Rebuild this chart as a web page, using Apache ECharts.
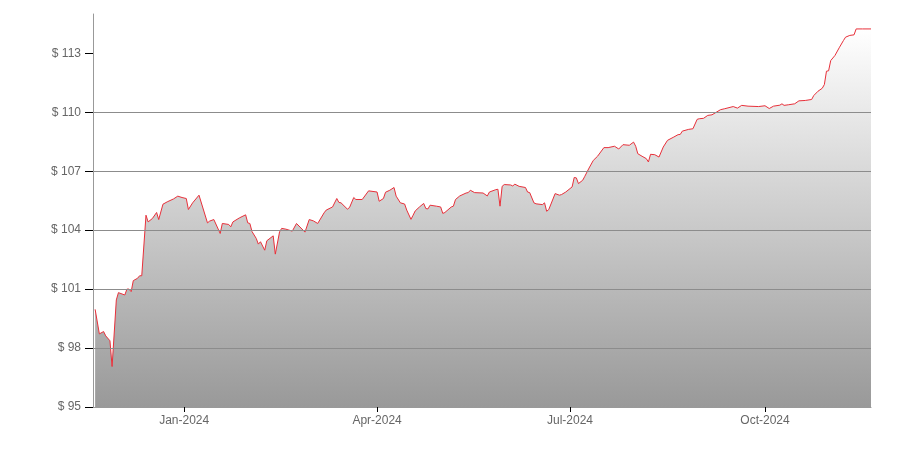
<!DOCTYPE html>
<html>
<head>
<meta charset="utf-8">
<script src="https://cdn.jsdelivr.net/npm/echarts@6/dist/echarts.min.js"></script>
<style>html,body{margin:0;padding:0;background:#fff}#c{width:900px;height:450px}</style>
</head>
<body>
<div id="c"></div>
<script>
const dates = ['2023-11-20','2023-11-22','2023-11-24','2023-11-25','2023-11-27','2023-11-28','2023-11-30','2023-12-01','2023-12-04','2023-12-05','2023-12-06','2023-12-07','2023-12-08','2023-12-10','2023-12-11','2023-12-12','2023-12-14','2023-12-15','2023-12-17','2023-12-19','2023-12-20','2023-12-22','2023-12-24','2023-12-27','2023-12-29','2023-12-31','2024-01-02','2024-01-03','2024-01-05','2024-01-08','2024-01-12','2024-01-13','2024-01-15','2024-01-18','2024-01-19','2024-01-22','2024-01-23','2024-01-24','2024-01-27','2024-01-30','2024-01-31','2024-02-01','2024-02-02','2024-02-04','2024-02-05','2024-02-06','2024-02-08','2024-02-09','2024-02-12','2024-02-13','2024-02-15','2024-02-16','2024-02-18','2024-02-21','2024-02-23','2024-02-27','2024-02-29','2024-03-02','2024-03-04','2024-03-07','2024-03-08','2024-03-11','2024-03-13','2024-03-14','2024-03-15','2024-03-18','2024-03-19','2024-03-21','2024-03-22','2024-03-25','2024-03-28','2024-04-01','2024-04-02','2024-04-04','2024-04-05','2024-04-07','2024-04-09','2024-04-10','2024-04-12','2024-04-14','2024-04-15','2024-04-17','2024-04-18','2024-04-19','2024-04-21','2024-04-23','2024-04-24','2024-04-25','2024-04-26','2024-04-29','2024-05-01','2024-05-02','2024-05-03','2024-05-06','2024-05-07','2024-05-08','2024-05-10','2024-05-13','2024-05-14','2024-05-15','2024-05-17','2024-05-21','2024-05-23','2024-05-24','2024-05-27','2024-05-28','2024-05-29','2024-05-30','2024-05-31','2024-06-03','2024-06-04','2024-06-05','2024-06-07','2024-06-10','2024-06-11','2024-06-12','2024-06-14','2024-06-15','2024-06-18','2024-06-19','2024-06-20','2024-06-21','2024-06-24','2024-06-26','2024-06-27','2024-06-29','2024-07-02','2024-07-03','2024-07-04','2024-07-05','2024-07-07','2024-07-08','2024-07-10','2024-07-12','2024-07-14','2024-07-17','2024-07-19','2024-07-22','2024-07-24','2024-07-26','2024-07-29','2024-07-31','2024-08-01','2024-08-02','2024-08-04','2024-08-06','2024-08-07','2024-08-08','2024-08-10','2024-08-12','2024-08-14','2024-08-16','2024-08-19','2024-08-21','2024-08-22','2024-08-23','2024-08-26','2024-08-28','2024-08-30','2024-08-31','2024-09-02','2024-09-04','2024-09-06','2024-09-08','2024-09-10','2024-09-12','2024-09-16','2024-09-18','2024-09-20','2024-09-23','2024-09-28','2024-10-01','2024-10-03','2024-10-05','2024-10-08','2024-10-09','2024-10-10','2024-10-12','2024-10-15','2024-10-17','2024-10-20','2024-10-23','2024-10-24','2024-10-26','2024-10-28','2024-10-29','2024-10-30','2024-10-31','2024-11-01','2024-11-03','2024-11-05','2024-11-07','2024-11-08','2024-11-10','2024-11-12','2024-11-13','2024-11-16','2024-11-20'];
const prices = [99.97,98.72,98.84,98.62,98.37,97.06,100.45,100.82,100.70,101.00,101.00,100.87,101.43,101.55,101.68,101.68,104.76,104.42,104.59,104.90,104.54,105.32,105.44,105.59,105.73,105.66,105.61,105.05,105.39,105.78,104.37,104.46,104.54,103.83,104.34,104.29,104.17,104.42,104.62,104.78,104.37,104.34,103.93,103.58,103.29,103.41,102.98,103.46,103.71,102.78,103.91,104.09,104.05,103.95,104.34,103.90,104.54,104.47,104.34,104.88,105.02,105.18,105.61,105.41,105.39,105.07,105.15,105.66,105.56,105.56,106.00,105.94,105.47,105.61,105.93,106.03,106.17,105.73,105.39,105.33,105.02,104.55,104.76,104.98,105.18,105.36,105.10,105.08,105.27,105.22,105.18,104.85,104.90,105.18,105.22,105.56,105.74,105.89,105.91,106.03,105.91,105.89,105.74,105.94,106.06,106.08,105.22,106.23,106.32,106.30,106.25,106.34,106.23,106.17,105.94,105.91,105.39,105.34,105.30,105.39,104.96,105.05,105.86,105.78,105.81,105.94,106.20,106.68,106.66,106.37,106.54,106.74,107.16,107.55,107.76,108.20,108.20,108.27,108.13,108.35,108.32,108.48,108.27,107.89,107.76,107.64,107.47,107.86,107.84,107.72,108.23,108.57,108.74,108.86,108.87,109.04,109.13,109.16,109.64,109.67,109.69,109.84,109.87,110.00,110.13,110.18,110.29,110.21,110.35,110.31,110.29,110.33,110.19,110.31,110.36,110.43,110.35,110.38,110.43,110.58,110.60,110.65,110.85,111.07,111.22,111.41,112.09,112.11,112.63,112.89,113.28,113.65,113.82,113.91,113.94,114.24,114.24,114.24];
const yTicks = [95, 98, 101, 104, 107, 110, 113];
const xTickDates = ['2024-01-01', '2024-04-01', '2024-07-01', '2024-10-01'];
const monthNames = ['Jan','Feb','Mar','Apr','May','Jun','Jul','Aug','Sep','Oct','Nov','Dec'];
const axisStart = '2023-11-19';
const axisEnd = '2024-11-20';

function ts(s) { return new Date(s + 'T00:00:00').getTime(); }

const seriesData = dates.map((d, i) => [ts(d), prices[i]]);
const FONT = 'Liberation Sans, Arial, sans-serif';

const chart = echarts.init(document.getElementById('c'), null, { renderer: 'canvas' });
chart.setOption({
  animation: false,
  backgroundColor: '#ffffff',
  grid: { left: 93, right: 29, top: 14, bottom: 43, containLabel: false },
  xAxis: {
    type: 'value',
    min: ts(axisStart),
    max: ts(axisEnd),
    axisLine: { show: true, lineStyle: { color: '#999', width: 1 } },
    axisTick: { show: true, length: 5, lineStyle: { color: '#000' }, customValues: xTickDates.map(ts) },
    axisLabel: {
      customValues: xTickDates.map(ts),
      color: '#666', fontSize: 12, fontFamily: FONT, margin: 8,
      formatter: function (v) { const d = new Date(v); return monthNames[d.getMonth()] + '-' + d.getFullYear(); }
    },
    splitLine: { show: false }
  },
  yAxis: {
    type: 'value',
    min: 95, max: 115, interval: 3,
    zlevel: 1,
    axisLine: { show: true, lineStyle: { color: '#999', width: 1 } },
    axisTick: { show: true, length: 8, lineStyle: { color: '#000' }, customValues: yTicks },
    axisLabel: {
      customValues: yTicks,
      color: '#666', fontSize: 12, fontFamily: FONT, margin: 12,
      formatter: function (v) { return '$ ' + v; }
    },
    splitLine: { show: true, showMinLine: false, showMaxLine: false, lineStyle: { color: '#8c8c8c', width: 1 } }
  },
  series: [{
    type: 'line',
    data: seriesData,
    symbol: 'none',
    lineStyle: { color: '#e8303a', width: 1 },
    areaStyle: {
      opacity: 1,
      color: new echarts.graphic.LinearGradient(0, 0, 0, 1, [
        { offset: 0, color: '#ffffff' },
        { offset: 1, color: '#999999' }
      ])
    }
  }]
});
</script>
</body>
</html>
